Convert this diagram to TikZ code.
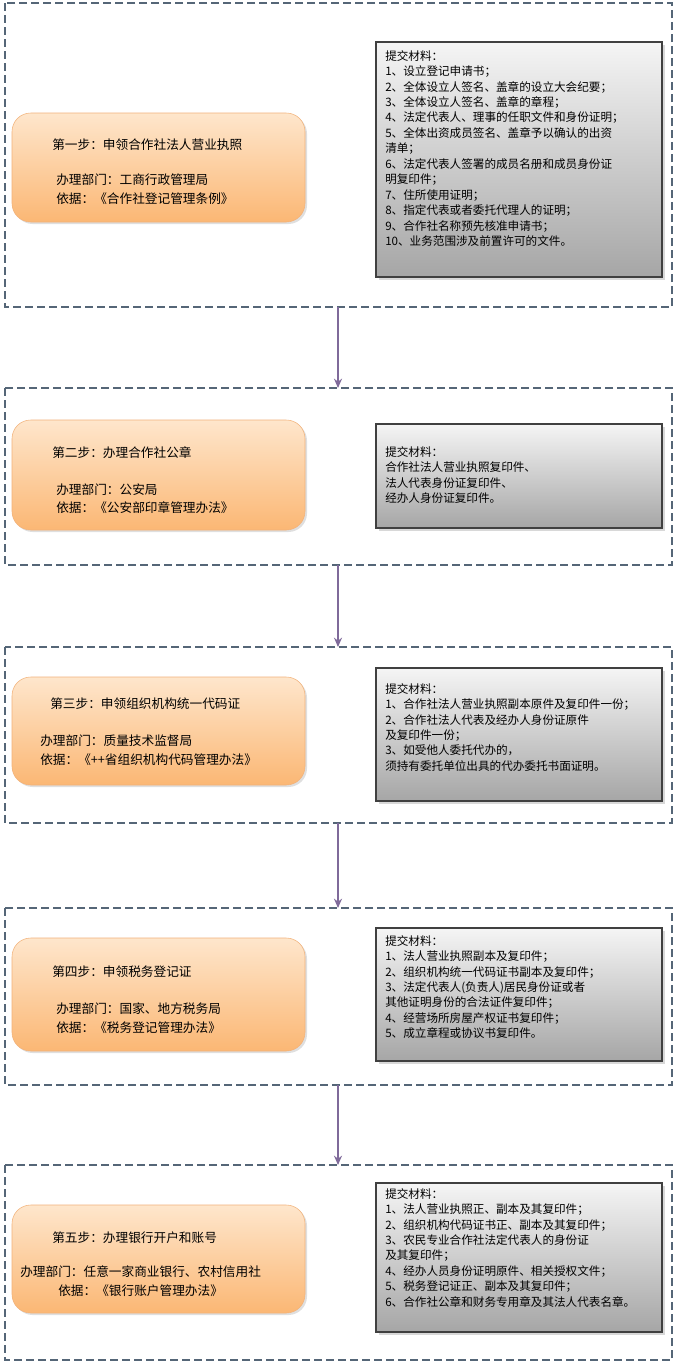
\documentclass[tikz,border=0pt]{standalone}
\usepackage{fontspec}
\setmainfont{Noto Sans CJK SC}
\usetikzlibrary{shadows,arrows.meta}
\definecolor{frame}{HTML}{556677}
\definecolor{arr}{HTML}{7F6A9A}
\definecolor{otop}{HTML}{FEE6CC}
\definecolor{obot}{HTML}{FBB774}
\definecolor{oline}{HTML}{F2B27A}
\tikzset{
  frm/.style={draw=frame,line width=2pt,dash pattern=on 6pt off 3pt},
  obox/.style={draw=oline,rounded corners=14pt,top color=otop,bottom color=obot,drop shadow={opacity=0.25,shadow xshift=1.5pt,shadow yshift=-1.5pt}},
  gbox/.style={draw=black!75,line width=0.8pt,top color=black!4,bottom color=black!35,drop shadow={opacity=0.3,shadow xshift=2pt,shadow yshift=-2pt}},
  gtxt/.style={anchor=north west,inner sep=0pt,align=left,font=\fontsize{8.7pt}{11.6pt}\selectfont},
  otxt/.style={anchor=west,inner sep=0pt,font=\fontsize{9.5pt}{12pt}\selectfont},
  ar/.style={draw=arr,line width=1.5pt,-{Stealth[length=7pt,width=6pt]}}
}
\begin{document}
\begin{tikzpicture}[x=0.75pt,y=-0.75pt]
\useasboundingbox[fill=white] (0,0) rectangle (687,1365);
% frames
\draw[frm] (5,3) rectangle (672,307); \coordinate (f1b) at (338,307);
\draw[frm] (5,388) rectangle (672,565); \coordinate (f2t) at (338,388); \coordinate (f2b) at (338,565);
\draw[frm] (5,647) rectangle (672,823); \coordinate (f3t) at (338,647); \coordinate (f3b) at (338,823);
\draw[frm] (5,908) rectangle (672,1085); \coordinate (f4t) at (338,908); \coordinate (f4b) at (338,1085);
\draw[frm] (5,1165) rectangle (672,1360); \coordinate (f5t) at (338,1165);
\draw[ar] (f1b) -- (f2t);
\draw[ar] (f2b) -- (f3t);
\draw[ar] (f3b) -- (f4t);
\draw[ar] (f4b) -- (f5t);
% orange boxes
\path[obox] (12,113) rectangle (305,222);
\node[otxt] (s1) at (52,145) {第一步：申领合作社法人营业执照};
\node[otxt] (d1) at (56,180) {办理部门：工商行政管理局};
\node[otxt] (b1) at (56,199) {依据：《合作社登记管理条例》};
\path[obox] (12,420) rectangle (305,530);
\node[otxt] (s2) at (52,453) {第二步：办理合作社公章};
\node[otxt] (d2) at (56,490) {办理部门：公安局};
\node[otxt] (b2) at (56,508) {依据：《公安部印章管理办法》};
\path[obox] (12,677) rectangle (305,785);
\node[otxt] (s3) at (50,704) {第三步：申领组织机构统一代码证};
\node[otxt] (d3) at (40,741) {办理部门：质量技术监督局};
\node[otxt] (b3) at (40,760) {依据：《++省组织机构代码管理办法》};
\path[obox] (12,938) rectangle (305,1051);
\node[otxt] (s4) at (52,972) {第四步：申领税务登记证};
\node[otxt] (d4) at (56,1009) {办理部门：国家、地方税务局};
\node[otxt] (b4) at (56,1028) {依据：《税务登记管理办法》};
\path[obox] (12,1205) rectangle (305,1313);
\node[otxt] (s5) at (52,1238) {第五步：办理银行开户和账号};
\node[otxt] (d5) at (20,1272) {办理部门：任意一家商业银行、农村信用社};
\node[otxt] (b5) at (58,1291) {依据：《银行账户管理办法》};
% grey boxes
\path[gbox] (376,42) rectangle (662,277);
\node[gtxt] (m1) at (385,50) {提交材料：\\1、设立登记申请书；\\2、全体设立人签名、盖章的设立大会纪要；\\3、全体设立人签名、盖章的章程；\\4、法定代表人、理事的任职文件和身份证明；\\5、全体出资成员签名、盖章予以确认的出资\\清单；\\6、法定代表人签署的成员名册和成员身份证\\明复印件；\\7、住所使用证明；\\8、指定代表或者委托代理人的证明；\\9、合作社名称预先核准申请书；\\10、业务范围涉及前置许可的文件。};
\path[gbox] (376,424) rectangle (662,528);
\node[gtxt] (m2) at (385,446) {提交材料：\\合作社法人营业执照复印件、\\法人代表身份证复印件、\\经办人身份证复印件。};
\path[gbox] (376,668) rectangle (662,801);
\node[gtxt] (m3) at (385,683) {提交材料：\\1、合作社法人营业执照副本原件及复印件一份；\\2、合作社法人代表及经办人身份证原件\\及复印件一份；\\3、如受他人委托代办的，\\须持有委托单位出具的代办委托书面证明。};
\path[gbox] (376,928) rectangle (662,1061);
\node[gtxt] (m4) at (385,935) {提交材料：\\1、法人营业执照副本及复印件；\\2、组织机构统一代码证书副本及复印件；\\3、法定代表人(负责人)居民身份证或者\\其他证明身份的合法证件复印件；\\4、经营场所房屋产权证书复印件；\\5、成立章程或协议书复印件。};
\path[gbox] (376,1183) rectangle (662,1332);
\node[gtxt] (m5) at (385,1188) {提交材料：\\1、法人营业执照正、副本及其复印件；\\2、组织机构代码证书正、副本及其复印件；\\3、农民专业合作社法定代表人的身份证\\及其复印件；\\4、经办人员身份证明原件、相关授权文件；\\5、税务登记证正、副本及其复印件；\\6、合作社公章和财务专用章及其法人代表名章。};
\end{tikzpicture}
\end{document}
